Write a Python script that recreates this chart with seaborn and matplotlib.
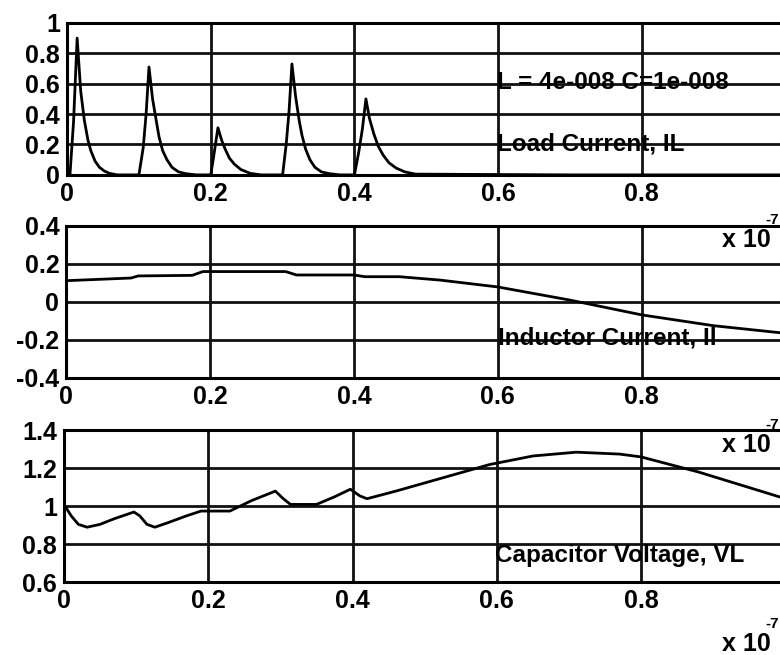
import matplotlib
matplotlib.use("Agg")
import matplotlib.pyplot as plt
import seaborn as sns

# Load current pulses (time in units of 1e-7 s)
t_load = [0.000, 0.004, 0.009, 0.014, 0.019, 0.024, 0.029, 0.033, 0.039, 0.045, 0.052, 0.059, 0.070,
          0.100, 0.106, 0.110, 0.114, 0.119, 0.124, 0.128, 0.133, 0.139, 0.146, 0.155, 0.165, 0.180,
          0.200, 0.204, 0.210, 0.215, 0.220, 0.226, 0.233, 0.242, 0.255, 0.270,
          0.300, 0.305, 0.309, 0.313, 0.318, 0.323, 0.327, 0.332, 0.338, 0.345, 0.354, 0.365, 0.380,
          0.400, 0.406, 0.411, 0.416, 0.421, 0.427, 0.433, 0.440, 0.448, 0.458, 0.470, 0.485,
          0.700, 1.000]
i_load = [0.00, 0.00, 0.35, 0.90, 0.55, 0.36, 0.23, 0.16, 0.09, 0.05, 0.025, 0.01, 0.00,
          0.00, 0.18, 0.40, 0.71, 0.50, 0.36, 0.25, 0.16, 0.10, 0.05, 0.02, 0.008, 0.00,
          0.00, 0.12, 0.31, 0.23, 0.17, 0.11, 0.07, 0.035, 0.01, 0.00,
          0.00, 0.20, 0.42, 0.73, 0.52, 0.36, 0.26, 0.17, 0.10, 0.05, 0.02, 0.008, 0.00,
          0.00, 0.15, 0.30, 0.50, 0.37, 0.27, 0.19, 0.13, 0.08, 0.045, 0.02, 0.005,
          0.00, 0.00]

# Inductor current
t_ind = [0.000, 0.090, 0.100, 0.175, 0.190, 0.305, 0.320, 0.400, 0.415,
         0.463, 0.520, 0.600, 0.700, 0.800, 0.900, 1.000]
i_ind = [0.112, 0.126, 0.137, 0.140, 0.160, 0.160, 0.142, 0.142, 0.133,
         0.133, 0.115, 0.079, 0.010, -0.068, -0.125, -0.165]

# Capacitor voltage
t_cap = [0.000, 0.010, 0.020, 0.032, 0.050, 0.070, 0.097, 0.105, 0.115,
         0.126, 0.145, 0.170, 0.190, 0.230, 0.260, 0.293, 0.304, 0.314,
         0.350, 0.375, 0.397, 0.410, 0.420, 0.460, 0.525, 0.590, 0.650,
         0.710, 0.770, 0.800, 0.880, 0.940, 1.000]
v_cap = [1.01, 0.95, 0.905, 0.89, 0.905, 0.935, 0.97, 0.95, 0.905,
         0.89, 0.915, 0.95, 0.975, 0.975, 1.03, 1.08, 1.04, 1.01,
         1.01, 1.05, 1.09, 1.055, 1.04, 1.08, 1.15, 1.22, 1.265,
         1.285, 1.275, 1.26, 1.18, 1.11, 1.04]

x_ticks = [0, 0.2, 0.4, 0.6, 0.8, 1.0]
x_labels = ['0', '0.2', '0.4', '0.6', '0.8', '1']
y1_ticks = [0, 0.2, 0.4, 0.6, 0.8, 1.0]
y1_labels = ['0', '0.2', '0.4', '0.6', '0.8', '1']
y2_ticks = [-0.4, -0.2, 0, 0.2, 0.4]
y2_labels = ['-0.4', '-0.2', '0', '0.2', '0.4']
y3_ticks = [0.6, 0.8, 1.0, 1.2, 1.4]
y3_labels = ['0.6', '0.8', '1', '1.2', '1.4']

sns.set_style("white")
plt.rcParams['font.family'] = ['Liberation Sans', 'DejaVu Sans']
plt.rcParams['font.weight'] = 'bold'
plt.rcParams['text.color'] = 'black'

fig = plt.figure(figsize=(7.8, 6.55), dpi=100)
ax1 = fig.add_axes([0.086, 0.733, 0.921, 0.232])
ax2 = fig.add_axes([0.085, 0.423, 0.922, 0.232])
ax3 = fig.add_axes([0.082, 0.111, 0.925, 0.232])

panels = [
    (ax1, t_load, i_load, y1_ticks, y1_labels, (0, 1)),
    (ax2, t_ind, i_ind, y2_ticks, y2_labels, (-0.4, 0.4)),
    (ax3, t_cap, v_cap, y3_ticks, y3_labels, (0.6, 1.4)),
]
for ax, xs, ys, yt, yl, ylim in panels:
    sns.lineplot(x=xs, y=ys, ax=ax, color='black', lw=2.0)
    ax.set_xlim(0, 1)
    ax.set_ylim(*ylim)
    ax.set_xticks(x_ticks)
    ax.set_xticklabels(x_labels)
    ax.set_yticks(yt)
    ax.set_yticklabels(yl)
    ax.grid(True, color='#111111', lw=2.0)
    ax.tick_params(length=0, labelsize=18, pad=5, colors='black')
    for s in ax.spines.values():
        s.set_visible(True)
        s.set_color('black')
        s.set_linewidth(2.2)

ax1.text(0.598, 0.605, 'L = 4e-008 C=1e-008', fontsize=17.5, va='center')
ax1.text(0.598, 0.20, 'Load Current, IL', fontsize=17.5, va='center')
ax2.text(0.600, -0.19, 'Inductor Current, Il', fontsize=17.5, va='center')
ax3.text(0.597, 0.742, 'Capacitor Voltage, VL', fontsize=17.5, va='center')

# x 10^-7 exponent labels at the lower right of each panel
for yc, ys in [(0.634, 0.664), (0.321, 0.351), (0.017, 0.047)]:
    fig.text(0.926, yc, 'x 10', fontsize=18, va='center', ha='left')
    fig.text(0.999, ys, '-7', fontsize=11, va='center', ha='right')

fig.savefig('out.png', dpi=100)
